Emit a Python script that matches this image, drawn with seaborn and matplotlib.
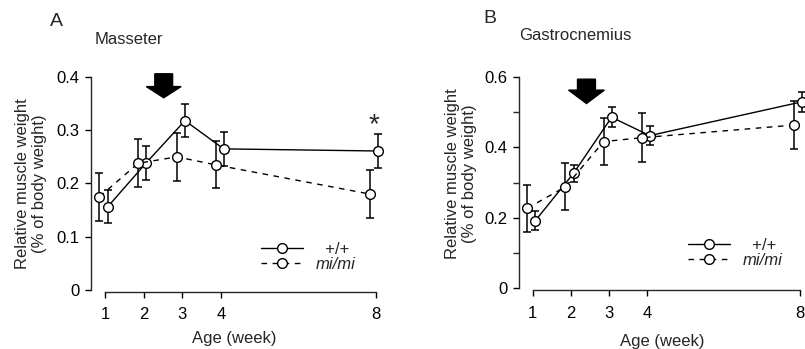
import numpy as np
import pandas as pd
import matplotlib
matplotlib.use('Agg')
import matplotlib.pyplot as plt
from matplotlib.lines import Line2D
import seaborn as sns

# ---- data (mean, SE) ----
weeks = [1, 2, 3, 4, 8]
genotypes = ['+/+', 'mi/mi']

mas_wt_mean = [0.156, 0.239, 0.318, 0.265, 0.261]
mas_wt_se = [0.031, 0.032, 0.031, 0.032, 0.032]
mas_mi_mean = [0.175, 0.238, 0.250, 0.235, 0.180]
mas_mi_se = [0.045, 0.045, 0.045, 0.044, 0.045]

gas_wt_mean = [0.192, 0.326, 0.485, 0.433, 0.529]
gas_wt_se = [0.026, 0.025, 0.028, 0.028, 0.028]
gas_mi_mean = [0.227, 0.288, 0.416, 0.427, 0.463]
gas_mi_se = [0.067, 0.067, 0.067, 0.069, 0.068]

sns.set_style('ticks')
plt.rcParams['font.family'] = ['Liberation Sans', 'DejaVu Sans']
plt.rcParams['font.size'] = 12
plt.rcParams['axes.linewidth'] = 1.0

# small horizontal shift so the two groups don't overlap
shift = {'+/+': 0.07, 'mi/mi': -0.14}


def make_df(wt_mean, wt_se, mi_mean, mi_se):
    rows = []
    for g, m, s in [('+/+', wt_mean, wt_se), ('mi/mi', mi_mean, mi_se)]:
        for w, mm, ss in zip(weeks, m, s):
            rows.append({'genotype': g, 'week': w, 'x': w + shift[g], 'mean': mm, 'se': ss})
    return pd.DataFrame(rows)


def draw_panel(ax, df, ymax, yticks, ylabels, minor=None):
    for g in genotypes:
        d = df[df['genotype'] == g]
        ax.errorbar(d['x'], d['mean'], yerr=d['se'], fmt='none', ecolor='black',
                    elinewidth=1.1, capsize=3, capthick=1.1, zorder=2, clip_on=False)
    sns.lineplot(data=df, x='x', y='mean', style='genotype',
                 dashes={'+/+': '', 'mi/mi': (4, 4)},
                 markers={'+/+': 'o', 'mi/mi': 'o'},
                 color='black', markerfacecolor='white', markeredgecolor='black',
                 markersize=7, markeredgewidth=1.0, linewidth=1.0,
                 legend=False, sort=False, errorbar=None, ax=ax, zorder=3)
    ax.set_xlim(0.64, 8.3)
    ax.set_ylim(0, ymax)
    ax.set_xticks(weeks)
    ax.set_xticklabels([str(w) for w in weeks])
    ax.set_yticks(yticks)
    ax.set_yticklabels(ylabels)
    if minor is not None:
        ax.set_yticks(minor, minor=True)
        ax.tick_params(axis='y', which='minor', direction='out', length=4.5, width=1)
    sns.despine(ax=ax)
    ax.spines['bottom'].set_bounds(1, 8)
    ax.spines['bottom'].set_position(('outward', 1.5))
    ax.tick_params(direction='out', length=4.5, width=1, labelsize=12, colors='black')
    ax.tick_params(axis='x', pad=6.5)
    ax.set_xlabel('Age (week)', fontsize=12)
    ax.set_ylabel('Relative muscle weight\n(% of body weight)', fontsize=12)

    handles = [Line2D([], [], color='black', lw=1, marker='o', mfc='white', mec='black', ms=7),
               Line2D([], [], color='black', lw=1, ls=(0, (4, 4)), marker='o', mfc='white',
                      mec='black', ms=7)]
    return handles


fig = plt.figure(figsize=(8.05, 3.49), dpi=100)
axA = fig.add_axes([0.1130, 0.1691, 0.3682, 0.6103])
axB = fig.add_axes([0.6447, 0.1739, 0.3628, 0.6063])

dfA = make_df(mas_wt_mean, mas_wt_se, mas_mi_mean, mas_mi_se)
dfB = make_df(gas_wt_mean, gas_wt_se, gas_mi_mean, gas_mi_se)

hA = draw_panel(axA, dfA, 0.4, [0, 0.1, 0.2, 0.3, 0.4], ['0', '0.1', '0.2', '0.3', '0.4'])
hB = draw_panel(axB, dfB, 0.6, [0, 0.2, 0.4, 0.6], ['0', '0.2', '0.4', '0.6'],
                minor=[0.1, 0.3, 0.5])

axA.xaxis.set_label_coords(0.484, -0.192)
axB.xaxis.set_label_coords(0.489, -0.215)
axA.yaxis.set_label_coords(-0.148, 0.5)
axB.yaxis.set_label_coords(-0.144, 0.54)

for ax, h, anchor in [(axA, hA, (0.574, 0.225)), (axB, hB, (0.579, 0.24))]:
    # '+/+' sits centred over 'mi/mi' in the original
    leg = ax.legend(h, ['  ' + genotypes[0], genotypes[1]], loc='upper left',
                    bbox_to_anchor=anchor, frameon=False,
                    handlelength=2.5, handletextpad=0.8, labelspacing=0.0,
                    borderpad=0, borderaxespad=0, fontsize=12, numpoints=1)
    leg.get_texts()[1].set_fontstyle('italic')

# weaning arrows
axA.arrow(2.52, 0.406, 0, -0.045, width=0.46, head_width=0.9, head_length=0.021,
          length_includes_head=True, color='black', clip_on=False, zorder=4)
axB.arrow(2.41, 0.593, 0, -0.069, width=0.47, head_width=0.94, head_length=0.038,
          length_includes_head=True, color='black', clip_on=False, zorder=4)

# significance mark
axA.text(7.95, 0.310, '*', ha='center', va='center', fontsize=20)

axA.text(0.0135, 1.178, 'Masseter', transform=axA.transAxes, fontsize=12, va='center', ha='left')
axB.text(0.0, 1.197, 'Gastrocnemius', transform=axB.transAxes, fontsize=12, va='center', ha='left')

fig.text(0.062, 0.937, 'A', fontsize=14, va='center')
fig.text(0.600, 0.946, 'B', fontsize=14, va='center')

fig.savefig('out.png', dpi=100)
